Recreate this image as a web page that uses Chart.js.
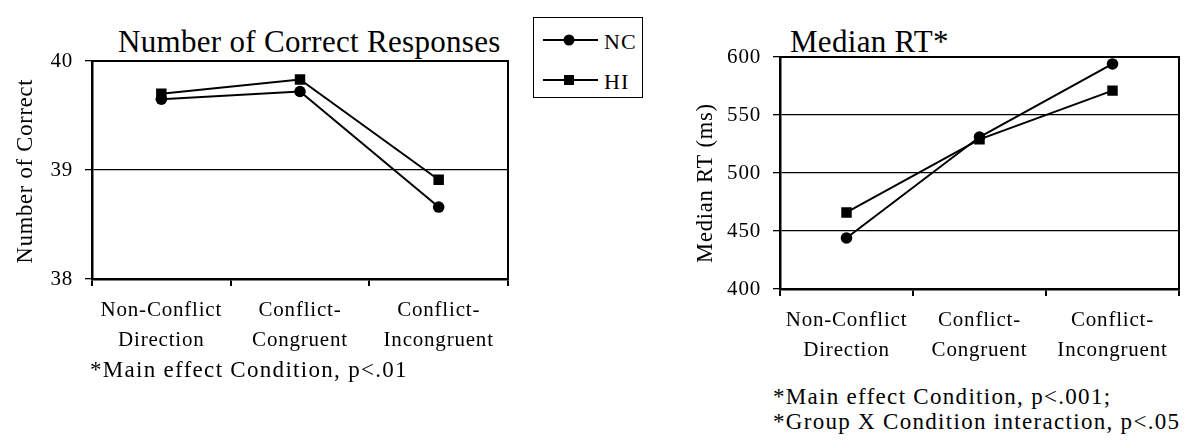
<!DOCTYPE html>
<html>
<head>
<meta charset="utf-8">
<script src="https://cdn.jsdelivr.net/npm/chart.js@4/dist/chart.umd.min.js"></script>
<style>
  body { margin: 0; background: #fff; width: 1191px; height: 440px; overflow: hidden; position: relative;
         font-family: "Liberation Serif", "Times New Roman", serif; color: #000; }
  .wrap { position: absolute; }
  .title { position: absolute; font-size: 31px; line-height: 31px; white-space: nowrap; letter-spacing: 0.3px; }
  .note { position: absolute; font-size: 23px; line-height: 25px; white-space: nowrap; letter-spacing: 1.3px; }
  #legend { position: absolute; left: 533px; top: 17px; width: 108px; height: 79px; border: 1.5px solid #000; }
  #legend svg { position: absolute; left: 0; top: 0; }
</style>
</head>
<body>

<div class="title" style="left:118px; top:26px;">Number of Correct Responses</div>
<div class="title" style="left:790px; top:26px;">Median RT*</div>

<div class="wrap" style="left:0; top:0; width:520px; height:360px;"><canvas id="correctChart"></canvas></div>
<div class="wrap" style="left:680px; top:0; width:511px; height:370px;"><canvas id="rtChart"></canvas></div>

<div id="legend">
  <svg width="108" height="79">
    <line x1="9" y1="22" x2="64" y2="22" stroke="#000" stroke-width="2"/>
    <circle cx="35" cy="22" r="5.5" fill="#000"/>
    <text x="70" y="31" font-family="Liberation Serif" font-size="22" letter-spacing="1">NC</text>
    <line x1="9" y1="62" x2="64" y2="62" stroke="#000" stroke-width="2"/>
    <rect x="30" y="57" width="10" height="10" fill="#000"/>
    <text x="70" y="71" font-family="Liberation Serif" font-size="22" letter-spacing="1">HI</text>
  </svg>
</div>

<div class="note" style="left:90px; top:357px;">*Main effect Condition, p&lt;.01</div>
<div class="note" style="left:773px; top:384px;">*Main effect Condition, p&lt;.001;<br>*Group X Condition interaction, p&lt;.05</div>

<script>
// Task conditions on the x axis (two-line labels)
const conditions = [['Non-Conflict', 'Direction'], ['Conflict-', 'Congruent'], ['Conflict-', 'Incongruent']];
const groups = ['NC', 'HI'];

// Number of correct responses per group
const correctNC = [39.65, 39.72, 38.66];
const correctHI = [39.70, 39.83, 38.91];

// Median reaction time (ms) per group
const rtNC = [444, 531, 594];
const rtHI = [466, 529, 571];

const SERIF = '"Liberation Serif", "Times New Roman", serif';

// Slightly spaced glyphs, like the typeset figure
const letterSpacing = {
  id: 'letterSpacing',
  beforeUpdate(chart) { chart.ctx.letterSpacing = '0.8px'; },
  beforeDraw(chart) { chart.ctx.letterSpacing = '0.8px'; }
};

// Closed box around the plotting area
const frame = {
  id: 'frame',
  beforeDatasetsDraw(chart) {
    const { ctx, chartArea: a } = chart;
    ctx.save();
    ctx.strokeStyle = '#000';
    ctx.lineWidth = 2;
    ctx.strokeRect(a.left, a.top, a.right - a.left, a.bottom - a.top);
    ctx.restore();
  }
};

// Rotated y-axis caption, placed by its baseline and a shift from the plot centre
const yCaption = {
  id: 'yCaption',
  afterDraw(chart, args, o) {
    const { ctx, chartArea: a } = chart;
    ctx.save();
    ctx.font = o.size + 'px ' + SERIF;
    ctx.letterSpacing = o.spacing;
    ctx.fillStyle = '#000';
    ctx.translate(o.x, (a.top + a.bottom) / 2 + o.dy);
    ctx.rotate(-Math.PI / 2);
    ctx.textAlign = 'center';
    ctx.textBaseline = 'alphabetic';
    ctx.fillText(o.text, 0, 0);
    ctx.restore();
  }
};

function makeChart(id, opts) {
  const mk = (label, data, style, r) => ({
    label, data,
    borderColor: '#000', backgroundColor: '#000', borderWidth: 2,
    pointStyle: style, pointRadius: r, pointHoverRadius: r,
    pointBackgroundColor: '#000', pointBorderColor: '#000', pointBorderWidth: 0,
    tension: 0, fill: false
  });
  return new Chart(document.getElementById(id), {
    type: 'line',
    data: {
      labels: conditions,
      datasets: [
        mk(groups[0], opts.nc, 'circle', 5.8),
        mk(groups[1], opts.hi, 'rect', 7.4)
      ]
    },
    options: {
      responsive: true,
      maintainAspectRatio: false,
      animation: false,
      events: [],
      layout: { autoPadding: false, padding: { left: 0, right: opts.padRight, top: opts.padTop, bottom: 0 } },
      plugins: {
        legend: { display: false }, tooltip: { enabled: false }, title: { display: false },
        yCaption: { text: opts.yTitle, size: 22.5, spacing: '0.8px', x: 32, dy: opts.titleShift }
      },
      scales: {
        x: {
          type: 'category',
          offset: true,
          afterFit(s) { s.height = opts.xHeight; },
          grid: { offset: true, drawOnChartArea: false, color: '#000', lineWidth: 2, tickLength: 7 },
          border: { display: true, color: '#000', width: 2.5 },
          ticks: { color: '#000', font: { family: SERIF, size: 21, lineHeight: 1.43 }, padding: 9, maxRotation: 0, autoSkip: false }
        },
        y: {
          min: opts.min, max: opts.max,
          afterFit(s) { s.width = opts.yWidth; },
          grid: { color: '#000', lineWidth: 1.3, tickLength: 7 },
          border: { display: true, color: '#000', width: 2.5 },
          ticks: { stepSize: opts.step, color: '#000', font: { family: SERIF, size: 21 }, padding: 12 },
          title: { display: false }
        }
      }
    },
    plugins: [letterSpacing, frame, yCaption]
  });
}

makeChart('correctChart', {
  nc: correctNC, hi: correctHI, min: 38, max: 40, step: 1,
  yTitle: 'Number of Correct', titleShift: 1,
  padTop: 61, padRight: 12, yWidth: 92, xHeight: 81
});

makeChart('rtChart', {
  nc: rtNC, hi: rtHI, min: 400, max: 600, step: 50,
  yTitle: 'Median RT (ms)', titleShift: 10,
  padTop: 57, padRight: 12, yWidth: 100, xHeight: 81
});
</script>
</body>
</html>
